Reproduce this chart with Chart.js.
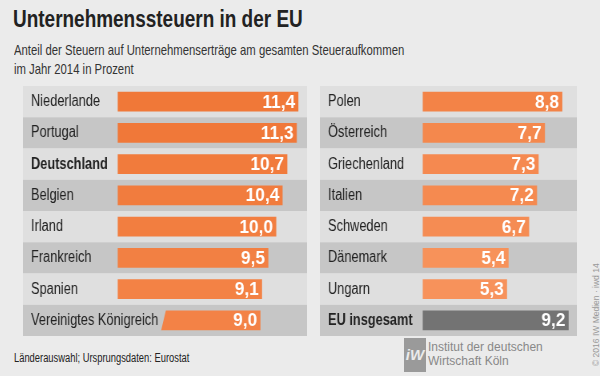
<!DOCTYPE html>
<html>
<head>
<meta charset="utf-8">
<script src="https://cdn.jsdelivr.net/npm/chart.js@4/dist/chart.umd.min.js"></script>
<style>
  body { margin: 0; background: #ebebeb; }
  #page { position: relative; width: 600px; height: 376px; overflow: hidden; background: #ebebeb;
          font-family: "Liberation Sans", Arial, sans-serif; color: #222; }
  .abs { position: absolute; white-space: nowrap; }
  .narrow { transform-origin: 0 0; transform: scaleX(0.79); }
  #title { left: 13px; top: 5px; font-size: 24px; font-weight: bold; color: #222; }
  #sub { left: 14px; top: 41px; font-size: 15px; line-height: 18.5px; color: #333; transform: scaleX(0.755); }
  #foot { left: 14px; top: 351px; font-size: 12px; color: #222; transform: scaleX(0.78); }
  #iw { left: 428px; top: 340px; font-size: 12px; line-height: 14px; color: #888; }
  #logo { left: 404px; top: 338px; width: 22px; height: 34px; background: #9a9a9a; color: #ebebeb;
          font-weight: bold; font-style: italic; font-size: 15px; text-align: center; line-height: 34px; }
  #copy { left: 591px; top: 366px; transform-origin: 0 0; transform: rotate(-90deg);
          font-size: 8.5px; color: #999; }
  .panel { position: absolute; top: 86px; height: 250px; transform-origin: 0 0; transform: scaleX(0.8); }
</style>
</head>
<body>
<div id="page">
  <div id="title" class="abs narrow">Unternehmenssteuern in der EU</div>
  <div id="sub" class="abs narrow">Anteil der Steuern auf Unternehmenserträge am gesamten Steueraufkommen<br>im Jahr 2014 in Prozent</div>
  <div class="panel" style="left:23px;width:355px"><canvas id="left"></canvas></div>
  <div class="panel" style="left:320px;width:321.25px"><canvas id="right"></canvas></div>
  <div id="foot" class="abs narrow">Länderauswahl; Ursprungsdaten: Eurostat</div>
  <div id="logo" class="abs">iW</div>
  <div id="iw" class="abs">Institut der deutschen<br>Wirtschaft Köln</div>
  <div id="copy" class="abs">© 2016 IW Medien · iwd 14</div>
</div>
<script>
// Data: share of corporate taxes in total tax revenue 2014, percent
const leftCountries = ["Niederlande", "Portugal", "Deutschland", "Belgien", "Irland", "Frankreich", "Spanien", "Vereinigtes Königreich"];
const leftValues = [11.4, 11.3, 10.7, 10.4, 10.0, 9.5, 9.1, 9.0];
const rightCountries = ["Polen", "Österreich", "Griechenland", "Italien", "Schweden", "Dänemark", "Ungarn", "EU insgesamt"];
const rightValues = [8.8, 7.7, 7.3, 7.2, 6.7, 5.4, 5.3, 9.2];
const boldLabels = ["Deutschland", "EU insgesamt"];

const FONT = '"Liberation Sans", Arial, sans-serif';
const SQUEEZE = 0.8;                 // panels are drawn wide and squeezed, gives condensed text
const ROW_LIGHT = "#dfdfdf";
const ROW_DARK = "#c6c6c6";

function barColor(label, v) {
  if (label === "EU insgesamt") return "#737373";
  // lighter orange for smaller values
  const t = Math.max(0, Math.min(1, (11.4 - v) / 6.1));
  const c0 = [240, 120, 56], c1 = [247, 146, 91];
  const c = c0.map((a, i) => Math.round(a + (c1[i] - a) * t));
  return `rgb(${c[0]},${c[1]},${c[2]})`;
}

// alternating row bands behind everything
const rowBands = {
  id: "rowBands",
  beforeDraw(chart) {
    const { ctx } = chart;
    const y = chart.scales.y;
    const n = chart.data.labels.length;
    const step = chart.height / n;
    ctx.save();
    for (let i = 0; i < n; i++) {
      ctx.fillStyle = i % 2 === 0 ? ROW_LIGHT : ROW_DARK;
      const cy = y.getPixelForValue(i);
      ctx.fillRect(0, cy - step / 2, chart.width, step);
    }
    ctx.restore();
  }
};

// slanted cut on the bar whose label runs into it, then value labels
const valueLabels = {
  id: "valueLabels",
  beforeDatasetsDraw(chart, args, opts) {
    const { ctx } = chart;
    ctx.save();
    if (opts.cutIndex == null) return;
    const b = chart.getDatasetMeta(0).data[opts.cutIndex];
    const top = b.y - b.height / 2 - 1, bot = b.y + b.height / 2 + 1;
    ctx.beginPath();
    ctx.rect(0, 0, chart.width, chart.height);
    ctx.moveTo(b.base - 2, top);
    ctx.lineTo(b.base + opts.cutTop / SQUEEZE, top);
    ctx.lineTo(b.base + opts.cutBottom / SQUEEZE, bot);
    ctx.lineTo(b.base - 2, bot);
    ctx.closePath();
    ctx.clip("evenodd");
  },
  afterDatasetsDraw(chart) {
    const { ctx } = chart;
    ctx.restore();
    const meta = chart.getDatasetMeta(0);
    const vals = chart.data.datasets[0].data;
    ctx.save();
    ctx.fillStyle = "#ffffff";
    ctx.font = "bold 18px " + FONT;
    ctx.textAlign = "right";
    ctx.textBaseline = "middle";
    meta.data.forEach((b, i) => {
      ctx.save();
      ctx.translate(b.x - 3 / SQUEEZE, b.y + 1);
      ctx.scale(0.96 / SQUEEZE, 1);   // undo most of the squeeze for the numbers
      ctx.fillText(vals[i].toFixed(1).replace(".", ","), 0, 0);
      ctx.restore();
    });
    ctx.restore();
  }
};

// axisWidth: page px from panel edge to the bar base; 15.8 page px per percent
function makeChart(id, labels, values, axisWidth, panelWidth, extra) {
  return new Chart(document.getElementById(id), {
    type: "bar",
    data: {
      labels: labels,
      datasets: [{
        data: values,
        backgroundColor: labels.map((l, i) => barColor(l, values[i])),
        barThickness: 19,
        borderWidth: 0
      }]
    },
    options: {
      indexAxis: "y",
      responsive: true,
      maintainAspectRatio: false,
      animation: false,
      layout: { padding: 0 },
      scales: {
        x: { display: false, min: -axisWidth / 15.8, max: (panelWidth - axisWidth) / 15.8 },
        y: {
          grid: { display: false, drawTicks: false },
          border: { display: false },
          afterFit(scale) {
            scale.width = 0;
            scale.paddingTop = 0;
            scale.paddingBottom = 0;
          },
          ticks: {
            mirror: true,
            padding: 8 / SQUEEZE,
            color: "#222",
            font: (c) => ({
              family: FONT,
              size: 16,
              weight: boldLabels.includes(c.tick && c.tick.label) ? "bold" : "normal"
            })
          }
        }
      },
      plugins: {
        legend: { display: false },
        tooltip: { enabled: false },
        valueLabels: extra || {}
      }
    },
    plugins: [rowBands, valueLabels]
  });
}

makeChart("left", leftCountries, leftValues, 95, 284, { cutIndex: 7, cutTop: 48, cutBottom: 43 });
makeChart("right", rightCountries, rightValues, 103, 257, {});
</script>
</body>
</html>
